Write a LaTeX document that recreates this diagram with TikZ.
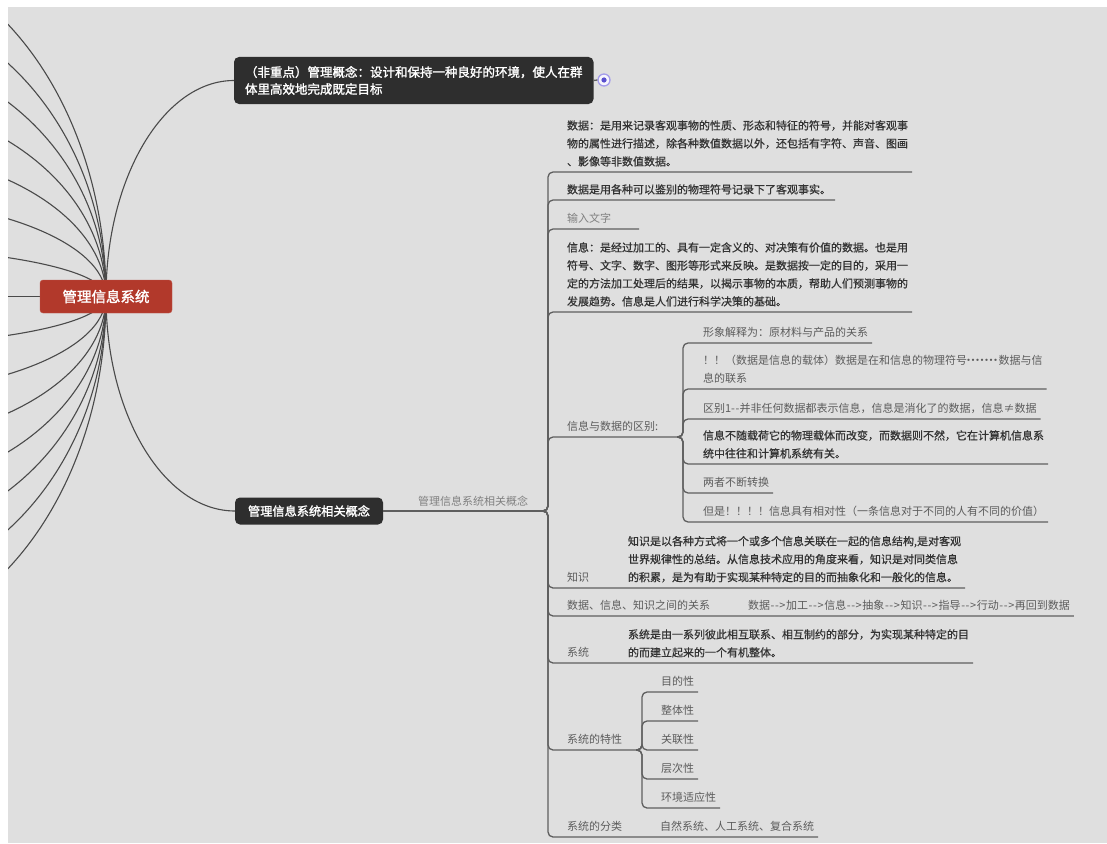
\documentclass[tikz,border=0pt]{standalone}
\usepackage{fontspec}
\setmainfont{Noto Sans CJK SC}
\newfontfamily\cjkb[FakeBold=1.6]{Noto Sans CJK SC}
\newfontfamily\cjkm[FakeBold=0.7]{Noto Sans CJK SC}
\newcommand\arw{\kern0.6pt-\kern0.6pt-\kern0.6pt>\kern0.6pt}
\newcommand\dd{-\kern0.8pt-}
\newcommand\md{·\kern-6.5pt}
\definecolor{bg}{HTML}{DFDFDF}
\definecolor{nodedark}{HTML}{2E2E2E}
\definecolor{rootred}{HTML}{B2392B}
\definecolor{linec}{HTML}{5E5E5E}
\definecolor{curvec}{HTML}{4A4A4A}
\definecolor{txtdark}{HTML}{333333}
\definecolor{txtmid}{HTML}{5C5C5C}
\definecolor{txtlight}{HTML}{808080}
\definecolor{ringc}{HTML}{A49CEB}
\definecolor{dotc}{HTML}{5A50CF}
\begin{document}
\begin{tikzpicture}[x=1pt,y=-1pt,
 conn/.style={draw=linec, line width=1.3pt, rounded corners=5pt},
 curve/.style={draw=curvec, line width=1.1pt},
 topic/.style={anchor=south west, inner xsep=4pt, inner ysep=5.5pt, outer sep=0pt, align=left, font=\fontsize{11}{18}\selectfont, text=txtmid},
 topicb/.style={topic, font=\cjkm\fontsize{11}{18}\selectfont, text=txtdark},
 darkbox/.style={fill=nodedark, rounded corners=5pt, text=white, inner sep=0pt, outer sep=0pt}]
\useasboundingbox (0,0) rectangle (1107,843);
\fill[white] (0,0) rectangle (1107,843);
\fill[bg] (8,7) rectangle (1107,843);

% first-level nodes
\node[darkbox, anchor=north west, minimum width=359pt, minimum height=47pt, inner xsep=11pt, align=left, font=\cjkb\fontsize{12.5}{17}\selectfont] (n1) at (234,57) {（非重点）管理概念：设计和保持一种良好的环境，使人在群\\体里高效地完成既定目标};
\node[darkbox, minimum width=148pt, minimum height=27pt, font=\cjkb\fontsize{12.2}{14}\selectfont] (n2) at (309,511) {管理信息系统相关概念};

\node[circle, draw=ringc, line width=1.3pt, fill=white!90!ringc, minimum size=12pt, inner sep=0pt] (col) at (604,80) {};
\fill[dotc] (col.center) circle (2.6pt);
\draw[conn] (n1.east) -- (col.west);

% fan of curves from the root
\coordinate (rc) at (106,296.5);
\begin{scope}
\clip (8,7) rectangle (1107,843);
\draw[curve] (rc) -- (0,296.5);
\foreach \i in {-7,-6,-5,-4,-3,-2,-1,1,2,3,4,5,6,7}{
  \pgfmathsetmacro\bb{\i*49.4}
  \draw[curve] (rc) .. controls (106,296.5+0.5523*\bb) and (-8.6,296.5+\bb) .. (-150,296.5+\bb);
}
\end{scope}
\draw[curve] (rc) .. controls (106,177) and (164,80.5) .. (n1.west);
\draw[curve] (rc) .. controls (106,415) and (164,511) .. (n2.west);

\node[fill=rootred, draw=rootred!85!white, rounded corners=3pt, minimum width=132pt, minimum height=33pt, text=white, font=\cjkb\fontsize{14.5}{16}\selectfont, inner sep=0pt] (root) at (rc) {管理信息系统};

% second level
\coordinate (hub) at (540,511);
\draw[conn] (n2.east) -- (hub);
\node[anchor=base west, font=\fontsize{11}{13}\selectfont, text=txtlight, inner sep=0pt] (lbl) at (418,505) {管理信息系统相关概念};

\node[topicb] (b1) at (563,172) {数据：是用来记录客观事物的性质、形态和特征的符号，并能对客观事\\物的属性进行描述，除各种数值数据以外，还包括有字符、声音、图画\\、影像等非数值数据。};
\node[topicb] (b2) at (563,200) {数据是用各种可以鉴别的物理符号记录下了客观事实。};
\node[topic, text=txtlight] (b3) at (563,229) {输入文字};
\coordinate (b3e) at ([xshift=24pt]b3.south east);
\node[topicb] (b4) at (563,312) {信息：是经过加工的、具有一定含义的、对决策有价值的数据。也是用\\符号、文字、数字、图形等形式来反映。是数据按一定的目的，采用一\\定的方法加工处理后的结果，以揭示事物的本质，帮助人们预测事物的\\发展趋势。信息是人们进行科学决策的基础。};
\node[topic] (b5) at (563,437) {信息与数据的区别:};
\coordinate (s1) at (677,437);
\node[topic] (b6) at (563,588) {知识};
\node[topicb] (b6c) at (624,588) {知识是以各种方式将一个或多个信息关联在一起的信息结构,是对客观\\世界规律性的总结。从信息技术应用的角度来看，知识是对同类信息\\的积累，是为有助于实现某种特定的目的而抽象化和一般化的信息。};
\node[topic] (b7) at (563,616) {数据、信息、知识之间的关系};
\node[topic] (b7c) at (744,616) {数据\arw 加工\arw 信息\arw 抽象\arw 知识\arw 指导\arw 行动\arw 再回到数据};
\node[topic] (b8) at (563,663) {系统};
\node[topicb] (b8c) at (624,663) {系统是由一系列彼此相互联系、相互制约的部分，为实现某种特定的目\\的而建立起来的一个有机整体。};
\node[topic] (b9) at (563,750) {系统的特性};
\coordinate (s2) at (636,750);
\node[topic] (b10) at (563,837) {系统的分类};
\node[topic] (b10c) at (656,837) {自然系统、人工系统、复合系统};

\foreach \t in {b1,b2,b3e,b4,b6c,b7c,b8c,b10c}
  \draw[conn] (hub) -- ++(8,0) |- (\t.south east);
\draw[conn] (hub) -- ++(8,0) |- (s1);
\draw[conn] (hub) -- ++(8,0) |- (s2);

% third level: 信息与数据的区别
\node[topic] (c1) at (699,343) {形象解释为：原材料与产品的关系};
\node[topic] (c2) at (699,389) {！！（数据是信息的载体）数据是在和信息的物理符号\kern-4pt\md\md\md\md\md\md\md\kern4pt 数据与信\\息的联系};
\node[topic] (c3) at (699,419) {区别1\dd 并非任何数据都表示信息，信息是消化了的数据，信息≠数据};
\node[topicb] (c4) at (699,464) {信息不随载荷它的物理载体而改变，而数据则不然，它在计算机信息系\\统中往往和计算机系统有关。};
\node[topic] (c5) at (699,493) {两者不断转换};
\node[topic] (c6) at (699,522) {但是！！！！信息具有相对性（一条信息对于不同的人有不同的价值）};
\foreach \k in {1,...,6}
  \draw[conn] (s1) -- ++(6,0) |- (c\k.south east);

% third level: 系统的特性
\node[topic] (d1) at (657,692) {目的性};
\node[topic] (d2) at (657,721) {整体性};
\node[topic] (d3) at (657,750) {关联性};
\node[topic] (d4) at (657,779) {层次性};
\node[topic] (d5) at (657,808) {环境适应性};
\foreach \k in {1,...,5}
  \draw[conn] (s2) -- ++(6,0) |- (d\k.south east);
\end{tikzpicture}
\end{document}
